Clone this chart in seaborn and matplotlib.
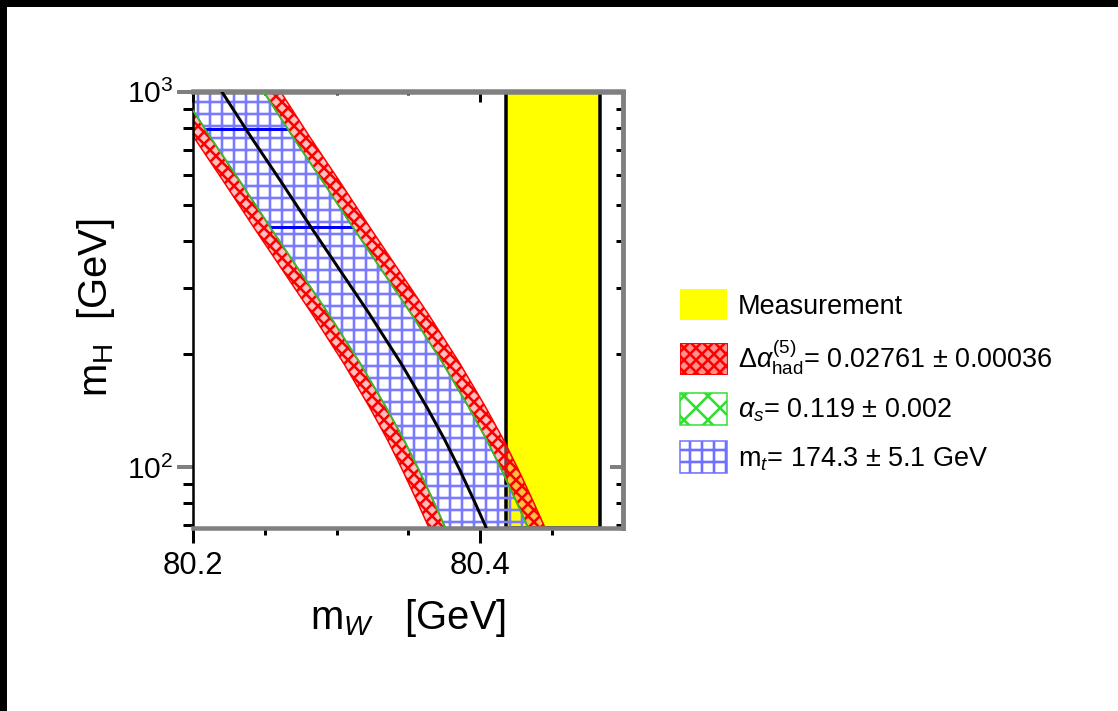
import matplotlib
matplotlib.use("Agg")
import matplotlib.pyplot as plt
import seaborn as sns
from matplotlib.patches import Patch, Rectangle
from matplotlib.ticker import NullFormatter

# ---------------- data ----------------
mh = [69, 81.5, 98, 117.8, 144.2, 188.9, 256.9, 340.5, 435.2, 580.7, 756.4, 1000]   # m_H [GeV]
mw_center = [80.4043, 80.3958, 80.3860, 80.3756, 80.3630, 80.3449, 80.3225, 80.3009, 80.2821, 80.2605, 80.2403, 80.2198]
mw_red_left_out = [80.3643, 80.3558, 80.3460, 80.3356, 80.3230, 80.3049, 80.2825, 80.2609, 80.2421, 80.2205, 80.2003, 80.1798]
mw_blue_left = [80.3758, 80.3673, 80.3575, 80.3471, 80.3345, 80.3164, 80.2940, 80.2724, 80.2536, 80.2320, 80.2118, 80.1913]
mw_blue_right = [80.4335, 80.4250, 80.4152, 80.4048, 80.3922, 80.3741, 80.3517, 80.3301, 80.3113, 80.2897, 80.2695, 80.2490]
mw_red_right_out = [80.4453, 80.4368, 80.4270, 80.4166, 80.4040, 80.3859, 80.3635, 80.3419, 80.3231, 80.3015, 80.2813, 80.2608]
meas_mw = 80.451
meas_err = 0.033
emph_mh = [794, 435]

xtick_major = [80.2, 80.4]
xtick_major_labels = ["80.2", "80.4"]
xtick_minor = [80.25, 80.3, 80.35, 80.45]
ytick_major = [100, 1000]
ytick_major_labels = [r"$10^{2}$", r"$10^{3}$"]
ytick_minor = [70, 80, 90, 200, 300, 400, 500, 600, 700, 800, 900]

legend_labels = [
    "Measurement",
    r"$\Delta\alpha^{(5)}_{\mathrm{had}}$= 0.02761 $\pm$ 0.00036",
    r"$\alpha_{s}$= 0.119 $\pm$ 0.002",
    r"m$_{t}$= 174.3 $\pm$ 5.1 GeV",
]

# ---------------- style ----------------
sns.set_theme(style="ticks")
plt.rcParams["font.family"] = ["Liberation Sans", "DejaVu Sans"]
plt.rcParams["mathtext.fontset"] = "custom"
plt.rcParams["mathtext.rm"] = "Liberation Sans"
plt.rcParams["mathtext.it"] = "Liberation Sans:italic"
plt.rcParams["mathtext.bf"] = "Liberation Sans:bold"
plt.rcParams["hatch.linewidth"] = 2.6
plt.rcParams["text.color"] = "black"
plt.rcParams["axes.labelcolor"] = "black"

HATCH_LW = 2.6


def thick_hatch(artist):
    if hasattr(artist, "set_hatch_linewidth"):
        artist.set_hatch_linewidth(HATCH_LW)
    return artist


DPI = 72
W, H = 1118, 711
fig = plt.figure(figsize=(W / DPI, H / DPI), dpi=DPI, facecolor="white")
ax = fig.add_axes([193.3 / W, 1 - 527.5 / H, 430 / W, 436 / H])
ax.set_facecolor("white")

# black strips on the top and left border
fig.add_artist(Rectangle((0, 1 - 7 / H), 1, 7 / H, transform=fig.transFigure,
                         facecolor="black", edgecolor="none", zorder=10))
fig.add_artist(Rectangle((0, 0), 7 / W, 1, transform=fig.transFigure,
                         facecolor="black", edgecolor="none", zorder=10))

# measurement band
ax.axvspan(meas_mw - meas_err, meas_mw + meas_err, facecolor="#ffff00",
           edgecolor="black", lw=3.5, zorder=1)

# red (Delta alpha) stripes
red_face = (1.0, 0.5, 0.5, 0.5)
thick_hatch(ax.fill_betweenx(mh, mw_red_left_out, mw_blue_left, facecolor=red_face,
                             edgecolor="red", hatch="xx", lw=1.5, zorder=2))
thick_hatch(ax.fill_betweenx(mh, mw_blue_right, mw_red_right_out, facecolor=red_face,
                             edgecolor="red", hatch="xx", lw=1.5, zorder=2))

# blue (m_t) band
blue = thick_hatch(ax.fill_betweenx(mh, mw_blue_left, mw_blue_right, facecolor="none",
                                    edgecolor="#7a7aff", hatch="+", lw=0, zorder=2))
for v in emph_mh:
    ln = ax.axhline(v, color="#0000ff", lw=3, zorder=2.6)
    ln.set_clip_path(blue.get_paths()[0], ax.transData)

# green (alpha_s) edges
for edge in (mw_blue_left, mw_blue_right):
    sns.lineplot(x=edge, y=mh, sort=False, estimator=None, color="#30c030",
                 lw=1.8, ax=ax, legend=False, zorder=3)

# central prediction
sns.lineplot(x=mw_center, y=mh, sort=False, estimator=None, color="black",
             lw=3.0, ax=ax, legend=False, zorder=4)

ax.set_yscale("log")
ax.set_xlim(80.2, 80.5)
ax.set_ylim(69, 1000)

# ticks
ax.set_xticks(xtick_major, labels=xtick_major_labels)
ax.set_xticks(xtick_minor, minor=True)
ax.set_yticks(ytick_major, labels=ytick_major_labels)
ax.set_yticks(ytick_minor, minor=True)
ax.yaxis.set_minor_formatter(NullFormatter())
ax.tick_params(axis="x", which="major", direction="out", length=15, width=3,
               color="black", labelsize=31, labelcolor="black", pad=8, top=False)
ax.tick_params(axis="x", which="minor", direction="out", length=7, width=3,
               color="black", top=False)
ax.tick_params(axis="y", which="major", direction="out", length=16, width=4,
               color="#808080", labelsize=30, labelcolor="black", pad=4, right=False)
ax.tick_params(axis="y", which="minor", direction="out", length=10, width=3,
               color="black", right=False)

sec_y = ax.secondary_yaxis("right")
sec_y.set_yticks(ytick_major)
sec_y.set_yticks(ytick_minor, minor=True)
sec_y.tick_params(which="major", direction="in", length=13, width=4,
                  color="#808080", labelright=False)
sec_y.tick_params(which="minor", direction="in", length=7, width=3,
                  color="black", labelright=False)
sec_y.yaxis.set_minor_formatter(NullFormatter())
sec_y.spines["right"].set_color("#808080")
sec_y.spines["right"].set_linewidth(4.5)

sec_x = ax.secondary_xaxis("top")
sec_x.set_xticks(xtick_major)
sec_x.set_xticks(xtick_minor, minor=True)
sec_x.tick_params(which="major", direction="in", length=11, width=3,
                  color="black", labeltop=False)
sec_x.tick_params(which="minor", direction="in", length=4, width=3,
                  color="black", labeltop=False)
sec_x.spines["top"].set_color("#808080")
sec_x.spines["top"].set_linewidth(4.5)

# spines
ax.spines["left"].set_color("black")
ax.spines["left"].set_linewidth(2.5)
for s in ("top", "bottom", "right"):
    ax.spines[s].set_color("#808080")
    ax.spines[s].set_linewidth(4.5)

# axis labels
ax.set_xlabel(r"m$_{\mathit{W}}$   [GeV]", fontsize=40, va="top")
ax.xaxis.set_label_coords(0.5, -(597 - 527.5) / 436)
ax.set_ylabel(r"m$_{\mathrm{H}}$  [GeV]", fontsize=40, va="center")
ax.yaxis.set_label_coords((96 - 193.3) / 430, (527.5 - 308) / 436)

# legend
handles = [
    Patch(facecolor="#ffff00", edgecolor="none"),
    thick_hatch(Patch(facecolor="#ff9090", edgecolor="red", hatch="xx", lw=1.0)),
    thick_hatch(Patch(facecolor="white", edgecolor="#30e030", hatch="x", lw=1.5)),
    thick_hatch(Patch(facecolor="white", edgecolor="#7070ff", hatch="+", lw=1.5)),
]
FS = 27
fig.legend(handles, legend_labels, loc="upper left",
           bbox_to_anchor=(680 / W, 1 - 289 / H), frameon=False, fontsize=FS,
           handlelength=47 / FS, handleheight=38 / FS, handletextpad=11 / FS,
           labelspacing=0.62, borderpad=0, borderaxespad=0)

fig.savefig("out.png", dpi=DPI, facecolor="white")
